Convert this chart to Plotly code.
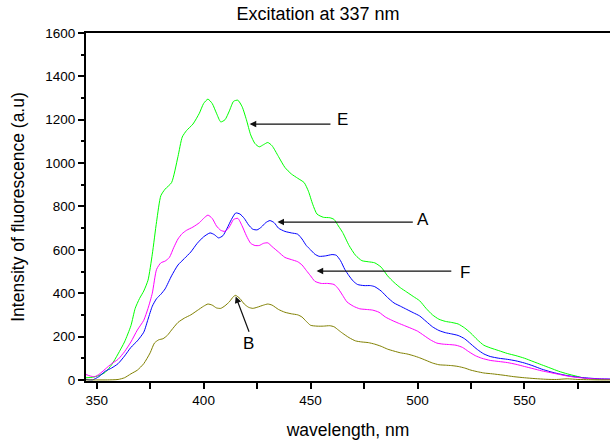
import plotly.graph_objects as go

# Wavelength (nm) / intensity pairs
E_wl = [345, 348, 351, 354, 357, 360, 363, 366, 368, 370, 372, 374, 376, 378, 380, 382, 385, 388, 390, 392, 395, 398, 400, 402, 404, 406, 408, 410, 412, 414, 416, 418, 420, 422, 424, 426, 428, 430, 432, 435, 438, 441, 444, 447, 449, 451, 453, 456, 459, 461, 463, 465, 468, 471, 474, 477, 480, 483, 486, 489, 492, 495, 498, 501, 504, 507, 510, 513, 516, 519, 522, 525, 528, 531, 534, 538, 542, 546, 550, 554, 558, 562, 566, 570, 574, 578, 582, 586, 590]
E_val = [10, 12, 20, 35, 70, 120, 175, 250, 330, 375, 410, 460, 580, 730, 850, 880, 910, 1030, 1120, 1150, 1180, 1230, 1275, 1295, 1275, 1230, 1190, 1200, 1240, 1285, 1290, 1260, 1200, 1130, 1090, 1075, 1085, 1095, 1080, 1030, 980, 950, 930, 910, 870, 810, 765, 750, 748, 740, 710, 680, 620, 575, 550, 545, 540, 520, 480, 450, 425, 405, 385, 365, 330, 300, 280, 270, 265, 258, 240, 215, 185, 160, 148, 135, 122, 112, 100, 85, 70, 55, 40, 28, 18, 8, 4, 2, 2]

A_wl = [345, 348, 351, 354, 357, 360, 363, 366, 369, 372, 374, 376, 378, 380, 382, 385, 388, 391, 394, 397, 400, 403, 405, 407, 409, 411, 413, 415, 417, 419, 421, 423, 425, 427, 429, 431, 433, 435, 438, 441, 444, 446, 448, 450, 452, 454, 457, 460, 462, 464, 466, 468, 470, 472, 475, 478, 480, 483, 486, 489, 492, 495, 498, 501, 504, 507, 510, 513, 516, 519, 522, 525, 528, 531, 534, 538, 542, 546, 550, 554, 558, 562, 566, 570, 574, 578, 582, 586, 590]
A_val = [2, 0, 15, 40, 55, 75, 110, 150, 180, 220, 280, 340, 375, 395, 420, 480, 530, 560, 590, 630, 660, 678, 670, 655, 665, 700, 740, 770, 765, 745, 715, 695, 692, 705, 725, 735, 725, 700, 685, 678, 672, 650, 620, 600, 580, 570, 572, 578, 575, 550, 510, 480, 455, 440, 435, 435, 430, 410, 380, 355, 340, 325, 310, 295, 270, 245, 228, 218, 212, 205, 190, 165, 140, 120, 108, 100, 95, 88, 78, 65, 50, 38, 28, 20, 14, 10, 7, 5, 4]

F_wl = [345, 347, 349, 351, 354, 357, 360, 363, 366, 369, 372, 374, 376, 378, 380, 382, 384, 386, 388, 390, 392, 395, 398, 400, 402, 404, 406, 408, 410, 412, 414, 416, 418, 420, 422, 424, 426, 428, 430, 432, 435, 438, 441, 444, 446, 448, 450, 452, 455, 458, 461, 463, 465, 467, 470, 473, 476, 479, 482, 485, 488, 491, 494, 497, 500, 503, 506, 509, 512, 515, 518, 521, 524, 527, 530, 534, 538, 542, 546, 550, 554, 558, 562, 566, 570, 574, 578, 582, 586, 590]
F_val = [25, 18, 15, 25, 50, 75, 95, 130, 175, 230, 275, 330, 400, 510, 540, 548, 565, 610, 650, 675, 690, 705, 725, 745, 760, 745, 710, 690, 685, 705, 740, 745, 710, 665, 630, 620, 620, 630, 632, 615, 590, 565, 555, 545, 530, 505, 480, 455, 445, 445, 440, 420, 390, 360, 340, 328, 325, 322, 312, 290, 275, 262, 250, 238, 225, 205, 185, 170, 165, 163, 160, 150, 130, 112, 100, 90, 85, 80, 72, 62, 52, 42, 34, 26, 18, 12, 8, 5, 4, 3]

B_wl = [345, 350, 355, 360, 363, 366, 369, 372, 375, 377, 379, 381, 383, 385, 388, 391, 394, 397, 400, 402, 404, 406, 408, 410, 412, 414, 415, 417, 419, 421, 423, 425, 428, 430, 432, 435, 438, 441, 444, 446, 448, 450, 453, 456, 459, 461, 463, 465, 468, 471, 474, 477, 480, 483, 486, 489, 492, 495, 498, 501, 504, 507, 510, 513, 516, 519, 522, 525, 528, 531, 535, 540, 545, 550, 555, 560, 565, 570, 575, 580, 585, 590]
B_val = [0, 0, 0, 2, 10, 28, 45, 75, 125, 170, 185, 190, 205, 230, 265, 285, 300, 320, 340, 350, 345, 332, 330, 342, 360, 385, 390, 375, 350, 335, 330, 335, 345, 350, 345, 325, 312, 305, 300, 290, 270, 252, 248, 248, 250, 245, 230, 215, 195, 180, 175, 172, 165, 155, 142, 133, 125, 120, 112, 102, 90, 78, 70, 68, 66, 62, 55, 45, 38, 32, 28, 22, 15, 10, 6, 3, 2, 5, 2, 1, 0, 0]

x_tickvals = [350, 400, 450, 500, 550]
y_tickvals = [0, 200, 400, 600, 800, 1000, 1200, 1400, 1600]

FONT = "Liberation Sans, Arial, sans-serif"

fig = go.Figure()
for wl, val, col in [(E_wl, E_val, "#00ff00"), (A_wl, A_val, "#0000ff"),
                     (F_wl, F_val, "#ff00ff"), (B_wl, B_val, "#808000")]:
    fig.add_trace(go.Scatter(x=wl, y=val, mode="lines",
                             line=dict(color=col, width=1, shape="spline", smoothing=0.6),
                             showlegend=False, hoverinfo="skip"))

# arrows (tail -> tip) and labels
arrows = [
    # tip_x, tip_y, tail_x, tail_y
    (421.5, 1180, 460, 1180),
    (434.5, 728, 498.5, 728),
    (452.8, 502, 516.5, 502),
    (415.0, 385, 421.5, 215),
]
labels = [("E", 465, 1203), ("A", 502.7, 740), ("F", 522, 495), ("B", 421.2, 166)]

for tx, ty, sx, sy in arrows:
    fig.add_annotation(x=tx, y=ty, ax=sx, ay=sy, xref="x", yref="y", axref="x", ayref="y",
                       text="", showarrow=True, arrowhead=2, arrowsize=1.1, arrowwidth=1.2,
                       arrowcolor="#111111", standoff=0, startstandoff=0)
for t, x, y in labels:
    fig.add_annotation(x=x, y=y, xref="x", yref="y", text=t, showarrow=False,
                       font=dict(family=FONT, size=17, color="black"))

fig.update_layout(
    width=610, height=443,
    margin=dict(l=86, r=0, t=33, b=62),
    paper_bgcolor="white", plot_bgcolor="white",
    font=dict(family=FONT, color="black"),
    title=dict(text="Excitation at 337 nm", x=318 / 610, xref="container", xanchor="center",
               y=1 - 14 / 443, yref="container", yanchor="middle",
               font=dict(family=FONT, size=18, color="black")),
)
fig.update_xaxes(
    range=[345, 590], tickvals=x_tickvals, ticktext=[str(v) for v in x_tickvals],
    ticks="outside", ticklen=6, tickwidth=1.5, tickcolor="black",
    minor=dict(dtick=25, tick0=350, ticks="outside", ticklen=6, tickwidth=1.5, tickcolor="black"),
    showline=True, linewidth=2, linecolor="black", mirror=True,
    showgrid=False, zeroline=False,
    tickfont=dict(family=FONT, size=13.5, color="black"),
    title=dict(text="wavelength, nm", font=dict(family=FONT, size=17.5, color="black"), standoff=17),
)
fig.update_yaxes(
    range=[-5, 1600], tickvals=y_tickvals, ticktext=[str(v) for v in y_tickvals],
    ticks="outside", ticklen=6, tickwidth=1.5, tickcolor="black",
    minor=dict(dtick=100, tick0=0, ticks="outside", ticklen=3, tickwidth=1.5, tickcolor="black"),
    showline=True, linewidth=2, linecolor="black", mirror=False,
    showgrid=False, zeroline=False,
    tickfont=dict(family=FONT, size=13.5, color="black"),
    title=dict(text="Intensity of fluorescence (a.u)", font=dict(family=FONT, size=17.5, color="black"), standoff=16),
)

fig.write_html("out.html")
